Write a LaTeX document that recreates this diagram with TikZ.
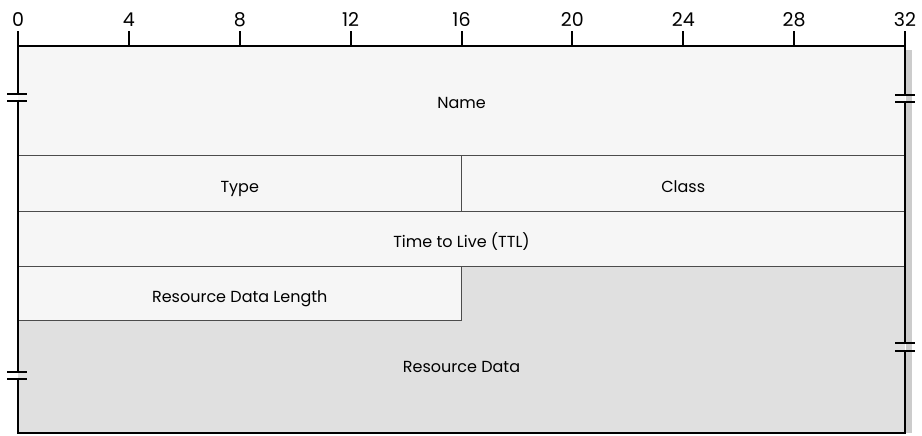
\documentclass[tikz,border=0pt]{standalone}
\usepackage{fontspec}
\setmainfont{Poppins}
\definecolor{rowfill}{gray}{0.965}
\definecolor{datafill}{gray}{0.88}
\definecolor{divline}{gray}{0.3}
\definecolor{edgeshade}{gray}{0.8}
\tikzset{
  fld/.style={font=\fontsize{16}{18}\selectfont,text height=11.5pt,text depth=3.5pt},
  num/.style={font=\fontsize{19}{21}\selectfont,anchor=base,inner sep=0pt},
  outer/.style={line width=2pt},
  div/.style={divline,line width=0.9pt},
}

\begin{document}
\begin{tikzpicture}[x=1pt,y=1pt]
  \useasboundingbox (0,0) rectangle (922,-436);
  % one bit = 27.72pt, left edge at 18pt
  \begin{scope}[xshift=18pt,x=27.72pt]
  % fields
  \fill[edgeshade] (32.02,-50) rectangle (32.25,-433);
  \fill[rowfill] (0,-46) rectangle (32,-266);
  \fill[rowfill] (0,-266) rectangle (16,-320);
  \fill[datafill] (16,-266) rectangle (32,-433);
  \fill[datafill] (0,-320) rectangle (16,-433);
  \draw[div] (0,-155) -- (32,-155);
  \draw[div] (0,-211) -- (32,-211);
  \draw[div] (0,-266) -- (32,-266);
  \draw[div] (16,-155) -- (16,-211);
  \draw[div] (16,-266) -- (16,-320) -- (0,-320);
  % outline with breaks
  \draw[outer] (0,-94) -- (0,-46) -- (32,-46) -- (32,-95);
  \draw[outer] (32,-102) -- (32,-343);
  \draw[outer] (32,-351) -- (32,-433) -- (0,-433) -- (0,-379);
  \draw[outer] (0,-372) -- (0,-101);
  \foreach \y in {-94,-101,-372,-379}
    \draw[outer] (-0.39,\y) -- (0.33,\y);
  \foreach \y in {-95,-102,-343,-351}
    \draw[outer] (31.64,\y) -- (32.36,\y);
  % ruler
  \foreach \b in {0,4,...,32} {
    \draw[outer] (\b,-46) -- (\b,-31);
    \node[num] (n\b) at (\b,-27) {\b};
  }
  % labels
  \node[fld] (name) at (16,-105) {Name};
  \node[fld] (type) at (8,-188) {Type};
  \node[fld] (class) at (24,-188) {Class};
  \node[fld] (ttl) at (16,-243) {Time to Live (TTL)};
  \node[fld] (rdlen) at (8,-298) {Resource Data Length};
  \node[fld] (rdata) at (16,-368) {Resource Data};
  \end{scope}
\end{tikzpicture}
\end{document}
